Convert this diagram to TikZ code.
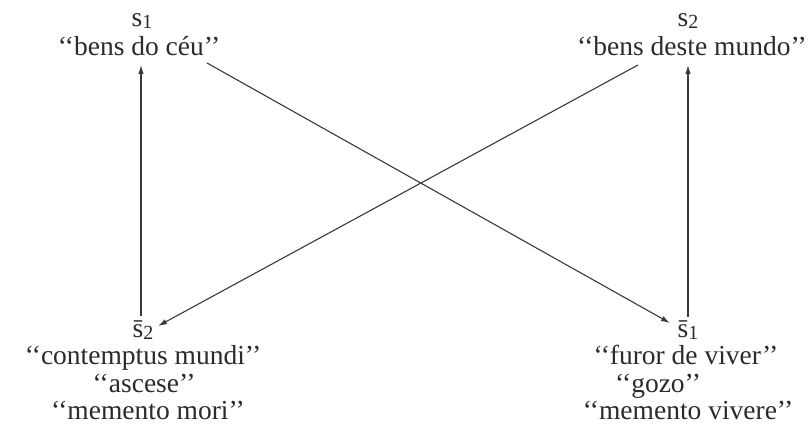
\documentclass[tikz,border=0pt]{standalone}
\usepackage{fontspec}
\setmainfont{Liberation Serif}
\usetikzlibrary{arrows.meta}
\definecolor{ink}{HTML}{2B2B2B}
\definecolor{lineink}{HTML}{3A3A3A}
\newcommand{\sub}[1]{\raisebox{-0.15ex}{\fontsize{20}{20}\selectfont #1}}
\newcommand{\sbar}{\={s}}
\begin{document}
\begin{tikzpicture}[x=1pt,y=-1pt,
  lab/.style={inner sep=0pt,anchor=base,text=ink,font=\fontsize{27.5}{28}\selectfont},
  arr/.style={draw=lineink,line width=1.1pt,-{Latex[length=9pt,width=5.5pt]}}]
\useasboundingbox[fill=white] (0,0) rectangle (809,438);
% top left
\node[lab] (s1) at (142,27) {s\sub{1}};
\node[lab] (t1) at (139,56) {`{}`bens do céu'{}'};
% top right
\node[lab] (s2) at (688,27) {s\sub{2}};
\node[lab] (t2) at (692,56) {`{}`bens deste mundo'{}'};
% bottom left
\node[lab] (nb2) at (143,338) {\sbar\sub{2}};
\node[lab] (b2a) at (143,365) {`{}`contemptus mundi'{}'};
\node[lab] (b2b) at (144,392) {`{}`ascese'{}'};
\node[lab] (b2c) at (148,419) {`{}`memento mori'{}'};
% bottom right
\node[lab] (nb1) at (688,338) {\sbar\sub{1}};
\node[lab] (b1a) at (686,365) {`{}`furor de viver'{}'};
\node[lab] (b1b) at (658,392) {`{}`gozo'{}'};
\node[lab] (b1c) at (688,419) {`{}`memento vivere'{}'};
% connector end points
\coordinate (l1) at (141,316);
\coordinate (l2) at (141,65);
\coordinate (r1) at (688,317);
\coordinate (r2) at (688,65);
\coordinate (d1a) at (207,63);
\coordinate (d1b) at (670,323);
\coordinate (d2a) at (638,65);
\coordinate (d2b) at (158,326);
\draw[arr] (l1) -- (l2);
\draw[arr] (r1) -- (r2);
\draw[arr] (d1a) -- (d1b);
\draw[arr] (d2a) -- (d2b);
\end{tikzpicture}
\end{document}
